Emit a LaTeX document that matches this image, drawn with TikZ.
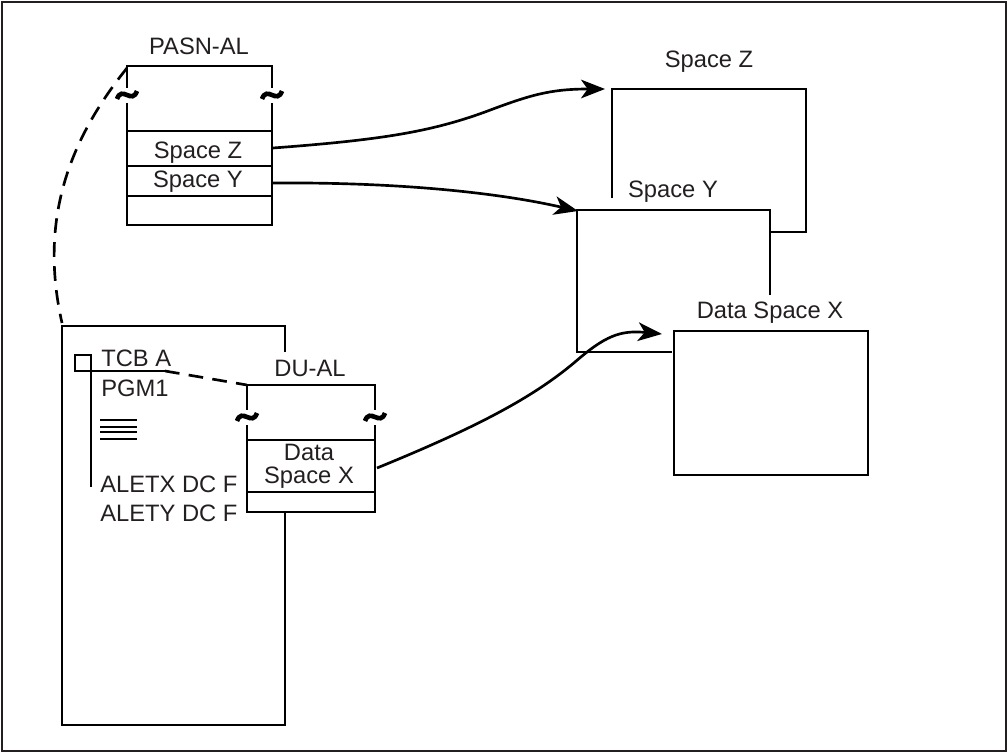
\documentclass[tikz,border=0pt]{standalone}
\usepackage{fontspec}
\setmainfont{Liberation Sans}
\usepackage{xcolor}
\usetikzlibrary{arrows.meta, math}
\definecolor{inkgray}{HTML}{231F20}

\tikzset{
  wall/.style={line width=2.2pt},
  thinwall/.style={line width=1.5pt},
  txt/.style={inner sep=0pt, anchor=base, text=inkgray},
  ptr/.style={line width=2pt, -{Stealth[length=18pt,width=14pt,inset=5pt]}},
  dashlink/.style={line width=2pt, dash pattern=on 11pt off 7pt},
  cut/.pic={
    \fill[white] (-3.5,-7.5) rectangle (3.5,7.5);
    \draw[line width=3.5pt] (-10,4) .. controls (-5,-10) and (5,10) .. (10,-4);
  }
}

\begin{document}
\begin{tikzpicture}[x=0.75pt, y=-0.75pt, font=\fontsize{17.8}{21}\selectfont]
\tikzmath{
\pl=127; \pr=272; \pt=66; \pb=225;
\dl=247; \dr=375; \dt=385; \db=512;
}
\useasboundingbox (0,0) rectangle (1008,753);
\draw[line width=0.8pt, inkgray] (2,2) rectangle (1006,751);

% PASN-AL
\draw[wall] (\pl,\pt) rectangle (\pr,\pb);
\foreach \r in {131,166,196} \draw[wall] (\pl,\r) -- (\pr,\r);
\pic at (\pl,95) {cut};
\pic at (\pr,95) {cut};
\node[txt] (pasn) at (199,55) {PASN-AL};
\node[txt] (rowZ) at (198,158) {Space Z};
\node[txt] (rowY) at (198,187) {Space Y};
\coordinate (zOut) at (273,148);
\coordinate (yOut) at (273,183);
\coordinate (pasnTL) at (\pl,68);

% TCB
\draw[wall] (285,352) -- (285,326) -- (62,326) -- (62,725) -- (285,725) -- (285,\db);
\coordinate (tcbTL) at (62,323);
\coordinate (tcbEnd) at (165,371);
\draw[wall] (75,355) rectangle (91,371);
\draw[wall] (91,371) -- (91,487);
\draw[wall] (75,371) -- (tcbEnd);
\foreach \y in {420,427,432,439} \draw[line width=1.5pt] (100,\y) -- (137,\y);
\node[txt, anchor=base west] (tcbA) at (101,366) {TCB A};
\node[txt, anchor=base west] (pgm) at (101,396) {PGM1};
\node[txt, anchor=base west] (aletx) at (100,492) {ALETX DC F};
\node[txt, anchor=base west] (alety) at (100,521) {ALETY DC F};

% DU-AL
\draw[wall] (\dl,\dt) rectangle (\dr,\db);
\foreach \r in {440,492} \draw[wall] (\dl,\r) -- (\dr,\r);
\pic at (\dl,417) {cut};
\pic at (\dr,417) {cut};
\node[txt] (dual) at (310,376) {DU-AL};
\node[txt] (rowX1) at (309,460) {Data};
\node[txt] (rowX2) at (309,483) {Space X};
\coordinate (duTL) at (\dl,\dt);
\coordinate (xOut) at (377,468);

% spaces
\draw[thinwall] (612,198) -- (612,89) -- (806,89) -- (806,232) -- (770,232);
\draw[thinwall] (770,295) -- (770,210) -- (577,210) -- (577,352) -- (672,352);
\draw[thinwall] (674,331) rectangle (868,475);
\node[txt] (spZ) at (709,67) {Space Z};
\node[txt] (spY) at (673,197) {Space Y};
\node[txt] (spX) at (770,318) {Data Space X};
\coordinate (zIn) at (605,89);
\coordinate (yIn) at (578,211);
\coordinate (xIn) at (662,334);

% links
\draw[dashlink] (pasnTL) .. controls (65,145) and (40,225) .. (tcbTL);
\draw[dashlink] (tcbEnd) -- (duTL);
\draw[ptr] (zOut) .. controls (380,140) and (430,132) .. (485,112)
  .. controls (530,95) and (550,89) .. (zIn);
\draw[ptr] (yOut) .. controls (400,182) and (500,193) .. (yIn);
\draw[ptr] (xOut) .. controls (470,430) and (530,400) .. (575,362)
  .. controls (605,336) and (620,330) .. (xIn);
\end{tikzpicture}
\end{document}
